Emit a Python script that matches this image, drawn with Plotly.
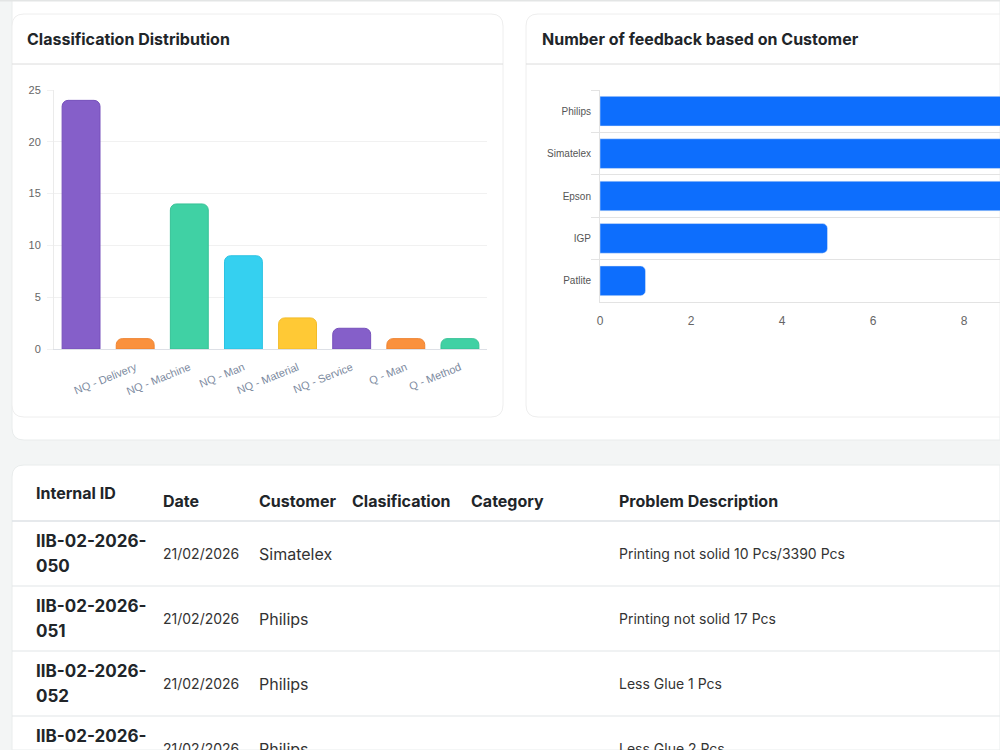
import plotly.graph_objects as go

# ---------------- data ----------------
classification = ["", "NQ - Delivery", "NQ - Machine", "NQ - Man",
                  "NQ - Material", "NQ - Service", "Q - Man", "Q - Method"]
class_counts = [24, 1, 14, 9, 3, 2, 1, 1]

customers = ["Philips", "Simatelex", "Epson", "IGP", "Patlite"]
customer_counts = [13, 11, 10, 5, 1]
customer_ticks = [0, 2, 4, 6, 8]

table_headers = ["Internal ID", "Date", "Customer", "Clasification", "Category", "Problem Description"]
row_ids = ["IIB-02-2026-050", "IIB-02-2026-051", "IIB-02-2026-052", "IIB-02-2026-053"]
row_dates = ["21/02/2026", "21/02/2026", "21/02/2026", "21/02/2026"]
row_customers = ["Simatelex", "Philips", "Philips", "Philips"]
row_classes = ["", "", "", ""]
row_categories = ["", "", "", ""]
row_problems = ["Printing not solid 10 Pcs/3390 Pcs", "Printing not solid 17 Pcs",
                "Less Glue 1 Pcs", "Less Glue 2 Pcs"]

# ---------------- styles / layout ----------------
W, H = 1000, 750
class_colors = ["#855fc9", "#fa913d", "#40d1a4", "#35d0f0", "#ffc935", "#855fc9", "#fa913d", "#40d1a4"]
class_lines = ["#7650bb", "#ee8330", "#36c296", "#2bc2e2", "#f2bb28", "#7650bb", "#ee8330", "#36c296"]
BLUE = "#0d6efd"
TXT = "#212529"
TICKF = "Liberation Sans, Arial, sans-serif"
UIF = "Inter, Noto Sans, sans-serif"
APAD = 3    # annotation inner padding in px
TPAD = 0    # scatter text offset in px
TEXT_DY = 2  # vertical text correction in px

TABLE_TOP = 465
HEADER_BOTTOM = 521
ROW_H = 65
FIRST_ROW_CENTER = HEADER_BOTTOM + ROW_H / 2
col_x = [36, 163, 259, 352, 471, 619]
header_offset = [493, 501, 501, 501, 501, 501]
ID_LINE_GAP = 12.5


def px(x):
    return x / W


def py(y):
    return 1 - y / H


def row_units(pix):
    return (pix - FIRST_ROW_CENTER) / ROW_H


def rrect(x0, y0, x1, y1, r):
    tl, tr, br, bl = r
    pts = [
        ("M", (x0 + tl, y0)), ("L", (x1 - tr, y0)), ("Q", (x1, y0), (x1, y0 + tr)),
        ("L", (x1, y1 - br)), ("Q", (x1, y1), (x1 - br, y1)), ("L", (x0 + bl, y1)),
        ("Q", (x0, y1), (x0, y1 - bl)), ("L", (x0, y0 + tl)), ("Q", (x0, y0), (x0 + tl, y0)),
    ]
    s = ""
    for seg in pts:
        coords = " ".join(f"{px(a):.5f},{py(b):.5f}" for a, b in seg[1:])
        s += f"{seg[0]} {coords} "
    return s + "Z"


def label(text, x, y, size, color=TXT, bold=False):
    t = f"<b>{text}</b>" if bold else text
    return dict(text=t, x=px(x - APAD), y=py(y), xref="paper", yref="paper",
                xanchor="left", yanchor="middle", showarrow=False,
                font=dict(family=UIF, size=size, color=color))


fig = go.Figure()

fig.add_trace(go.Bar(
    x=list(range(len(classification))), y=class_counts,
    marker=dict(color=class_colors, line=dict(color=class_lines, width=1), cornerradius=6),
    width=0.7, xaxis="x", yaxis="y", showlegend=False,
))

fig.add_trace(go.Bar(
    x=customer_counts, y=customers, orientation="h",
    marker=dict(color=BLUE, cornerradius=5),
    width=0.7, xaxis="x2", yaxis="y2", showlegend=False,
))

n_rows = len(row_ids)
DY = TEXT_DY / ROW_H


def text_trace(xs, ys, texts, size, color, bold=False):
    t = [f"<b>{s}</b>" if bold else s for s in texts]
    return go.Scatter(x=[x - TPAD for x in xs], y=[y + DY for y in ys], text=t, mode="text",
                      textposition="middle right",
                      textfont=dict(family=UIF, size=size, color=color), xaxis="x3", yaxis="y3",
                      showlegend=False, hoverinfo="skip", cliponaxis=True)


fig.add_trace(text_trace(col_x, [row_units(v) for v in header_offset], table_headers, 16, TXT, bold=True))
id_x, id_y, id_t = [], [], []
for i, rid in enumerate(row_ids):
    cut = rid.rfind("-") + 1
    id_x += [col_x[0], col_x[0]]
    id_y += [i - ID_LINE_GAP / ROW_H, i + ID_LINE_GAP / ROW_H]
    id_t += [rid[:cut], rid[cut:]]
fig.add_trace(text_trace(id_x, id_y, id_t, 17, TXT, bold=True))
rows_idx = list(range(n_rows))
fig.add_trace(text_trace([col_x[1]] * n_rows, rows_idx, row_dates, 14, "#333333"))
fig.add_trace(text_trace([col_x[2]] * n_rows, rows_idx, row_customers, 16, "#333333"))
fig.add_trace(text_trace([col_x[3]] * n_rows, rows_idx, row_classes, 14, "#333333"))
fig.add_trace(text_trace([col_x[4]] * n_rows, rows_idx, row_categories, 14, "#333333"))
fig.add_trace(text_trace([col_x[5]] * n_rows, rows_idx, row_problems, 14, "#333333"))

shapes = []
shapes.append(dict(type="path", xref="paper", yref="paper", path=rrect(12, 0, 1000, 440, (0, 0, 0, 12)),
                   fillcolor="white", line=dict(color="#e9ecec", width=1), layer="below"))
shapes.append(dict(type="line", xref="paper", yref="paper", x0=0, x1=1, y0=py(0.8), y1=py(0.8),
                   line=dict(color="#e3e5e5", width=1.6), layer="below"))
for (x0, x1, rad) in [(12, 503, (12, 12, 12, 12)), (526, 1000, (12, 0, 0, 12))]:
    shapes.append(dict(type="path", xref="paper", yref="paper", path=rrect(x0, 14, x1, 417, rad),
                       fillcolor="white", line=dict(color="#eeeeee", width=1), layer="below"))
    shapes.append(dict(type="line", xref="paper", yref="paper", x0=px(x0), x1=px(x1),
                       y0=py(64), y1=py(64), line=dict(color="#dcdcdc", width=1), layer="below"))
shapes.append(dict(type="path", xref="paper", yref="paper",
                   path=rrect(12, TABLE_TOP, 1000, 750, (12, 0, 0, 0)),
                   fillcolor="white", line=dict(color="#e9ecec", width=1), layer="below"))
shapes.append(dict(type="line", xref="paper", yref="y3", x0=px(12), x1=1, y0=-0.5, y1=-0.5,
                   line=dict(color="#dee2e6", width=1.5), layer="below"))
for i in range(1, n_rows):
    shapes.append(dict(type="line", xref="paper", yref="y3", x0=px(12), x1=1, y0=i - 0.5, y1=i - 0.5,
                       line=dict(color="#e2e5e8", width=1.2), layer="below"))

annotations = [
    label("Classification Distribution", 28, 38.5, 16, bold=True),
    label("Number of feedback based on Customer", 543, 38.5, 16, bold=True),
]

fig.update_layout(
    width=W, height=H, margin=dict(l=0, r=0, t=0, b=0, autoexpand=False),
    paper_bgcolor="#f3f5f5", plot_bgcolor="rgba(0,0,0,0)",
    shapes=shapes, annotations=annotations,
    xaxis=dict(
        domain=[px(54), px(487)], range=[-0.5, len(classification) - 0.5],
        tickvals=list(range(len(classification))), ticktext=classification,
        tickangle=-22, tickfont=dict(family=TICKF, size=11, color="#7c8aa0"),
        showgrid=False, zeroline=False, showline=True, linecolor="#dde0e6", linewidth=1,
        ticks="", ticklabelstandoff=7, fixedrange=True, automargin=False,
    ),
    yaxis=dict(
        domain=[py(349), py(90)], range=[0, 25], tickvals=[0, 5, 10, 15, 20, 25],
        tickfont=dict(family=TICKF, size=11, color="#666666"),
        showgrid=True, gridcolor="#f1f1f1", zeroline=False, showline=True, linecolor="#ebebeb",
        ticks="outside", ticklen=6, tickcolor="#f1f1f1", ticklabelstandoff=4, fixedrange=True,
        automargin=False,
    ),
    xaxis2=dict(
        domain=[px(600), 1.0], range=[0, 400 / 45.5], tickvals=customer_ticks,
        tickfont=dict(family=TICKF, size=12, color="#666666"),
        showgrid=False, zeroline=False, showline=True, linecolor="#e3e3e3", linewidth=1,
        ticks="", ticklabelstandoff=8, anchor="y2", fixedrange=True, automargin=False,
    ),
    yaxis2=dict(
        domain=[py(302), py(90)], type="category", categoryorder="array", categoryarray=customers,
        autorange="reversed", tickson="boundaries", showgrid=True, gridcolor="#e3e3e3",
        showline=True, linecolor="#e3e3e3", ticks="outside", ticklen=8, tickcolor="#e3e3e3",
        tickfont=dict(family=TICKF, size=10, color="#555555"), anchor="x2", fixedrange=True,
        ticklabelstandoff=6, automargin=False,
    ),
    xaxis3=dict(domain=[0, 1], range=[0, W], visible=False, fixedrange=True, anchor="y3",
                automargin=False),
    yaxis3=dict(domain=[0, py(TABLE_TOP)], range=[row_units(H), row_units(TABLE_TOP)],
                visible=False, fixedrange=True, anchor="x3", automargin=False),
)

fig.write_html("out.html")
